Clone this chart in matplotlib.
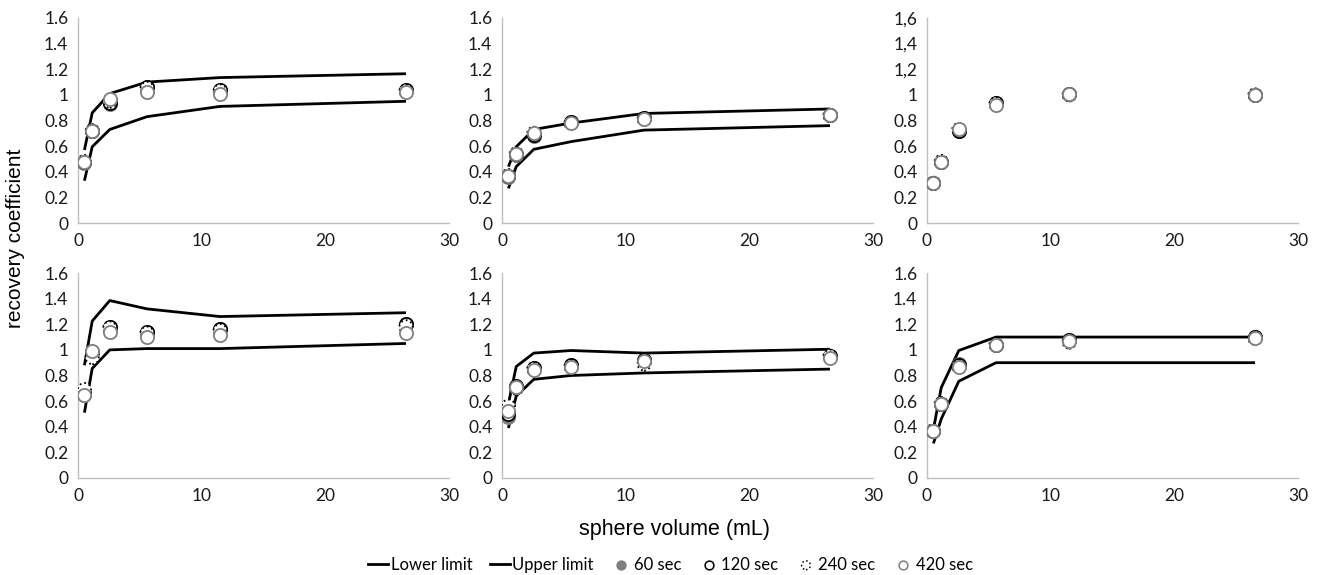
"""Recovery coefficient vs sphere volume, six panels with limit bands."""

import matplotlib

matplotlib.use("Agg")
import matplotlib.pyplot as plt
from matplotlib.lines import Line2D


# sphere volumes (mL) of the six phantom spheres
volume = [0.52, 1.15, 2.57, 5.58, 11.49, 26.52]

series_names = ["60 sec", "120 sec", "240 sec", "420 sec"]

# panel order: top-left, top-middle, top-right, bottom-left, bottom-middle, bottom-right
lower_limit = [
    [0.33, 0.595, 0.73, 0.83, 0.91, 0.95],
    [0.27, 0.44, 0.575, 0.635, 0.725, 0.76],
    None,
    [0.51, 0.855, 1.0, 1.01, 1.01, 1.05],
    [0.39, 0.64, 0.77, 0.80, 0.82, 0.85],
    [0.27, 0.46, 0.755, 0.90, 0.90, 0.90],
]
upper_limit = [
    [0.57, 0.86, 1.01, 1.10, 1.135, 1.165],
    [0.44, 0.595, 0.73, 0.78, 0.855, 0.89],
    None,
    [0.88, 1.225, 1.385, 1.32, 1.26, 1.29],
    [0.58, 0.87, 0.975, 0.995, 0.975, 1.005],
    [0.38, 0.705, 0.995, 1.10, 1.10, 1.10],
]

rc_60 = [
    [0.47, 0.72, 0.93, 1.06, 1.04, 1.04],
    [0.36, 0.53, 0.68, 0.79, 0.82, 0.84],
    [0.31, 0.48, 0.72, 0.94, 1.01, 1.00],
    [0.65, 0.98, 1.18, 1.14, 1.16, 1.20],
    [0.48, 0.71, 0.86, 0.88, 0.92, 0.95],
    [0.37, 0.58, 0.89, 1.04, 1.08, 1.10],
]
rc_120 = [
    [0.48, 0.72, 0.94, 1.06, 1.04, 1.04],
    [0.37, 0.54, 0.69, 0.79, 0.82, 0.84],
    [0.31, 0.48, 0.72, 0.94, 1.01, 1.00],
    [0.66, 0.98, 1.18, 1.14, 1.16, 1.20],
    [0.50, 0.72, 0.86, 0.88, 0.92, 0.95],
    [0.37, 0.58, 0.88, 1.04, 1.08, 1.10],
]
rc_240 = [
    [0.48, 0.72, 0.95, 1.05, 1.03, 1.03],
    [0.37, 0.54, 0.70, 0.78, 0.81, 0.84],
    [0.31, 0.48, 0.73, 0.93, 1.00, 1.00],
    [0.69, 0.94, 1.17, 1.13, 1.15, 1.18],
    [0.56, 0.70, 0.85, 0.87, 0.89, 0.95],
    [0.37, 0.58, 0.87, 1.04, 1.06, 1.09],
]
rc_420 = [
    [0.48, 0.72, 0.97, 1.02, 1.01, 1.02],
    [0.37, 0.54, 0.70, 0.78, 0.815, 0.84],
    [0.31, 0.48, 0.73, 0.92, 1.005, 1.00],
    [0.65, 0.99, 1.14, 1.10, 1.12, 1.13],
    [0.52, 0.71, 0.84, 0.87, 0.91, 0.94],
    [0.37, 0.58, 0.87, 1.04, 1.07, 1.09],
]

y_ticks = [0, 0.2, 0.4, 0.6, 0.8, 1.0, 1.2, 1.4, 1.6]
y_labels = ["0", "0.2", "0.4", "0.6", "0.8", "1", "1.2", "1.4", "1.6"]
y_labels_comma = ["0", "0.2", "0.4", "0.6", "0.8", "1", "1,2", "1,4", "1,6"]
x_ticks = [0, 10, 20, 30]

TICK_FONT = "Lato"
LABEL_FONT = "Liberation Sans"
GREY = "#7f7f7f"
SPINE = "#bfbfbf"

marker_styles = [
    dict(facecolors=GREY, edgecolors=GREY, linestyle="-"),
    dict(facecolors="white", edgecolors="black", linestyle="-"),
    dict(facecolors="white", edgecolors="black", linestyle=":"),
    dict(facecolors="white", edgecolors=GREY, linestyle="-"),
]

fig = plt.figure(figsize=(13.2, 5.75), dpi=100)

lefts = [78 / 1320, 502 / 1320, 927 / 1320]
bottoms = [(575 - 223) / 575, (575 - 478) / 575]
width = 371 / 1320
height = 205 / 575

all_series = [rc_60, rc_120, rc_240, rc_420]

for idx in range(6):
    row, col = divmod(idx, 3)
    ax = fig.add_axes([lefts[col], bottoms[row], width, height])

    if lower_limit[idx] is not None:
        ax.plot(volume, lower_limit[idx], color="black", lw=2.0, solid_capstyle="butt", zorder=2)
        ax.plot(volume, upper_limit[idx], color="black", lw=2.0, solid_capstyle="butt", zorder=2)

    for k, data in enumerate(all_series):
        ax.scatter(volume, data[idx], s=90, linewidths=1.3, zorder=3 + k, **marker_styles[k])

    ax.set_xlim(0, 30)
    ax.set_ylim(0, 1.6)
    ax.set_xticks(x_ticks)
    ax.set_yticks(y_ticks)
    ax.set_yticklabels(y_labels_comma if idx == 2 else y_labels)
    ax.tick_params(length=0, labelsize=12.5, pad=7, labelcolor="#1a1a1a")
    for lab in ax.get_xticklabels() + ax.get_yticklabels():
        lab.set_fontfamily(TICK_FONT)
    for side in ("top", "right"):
        ax.spines[side].set_visible(False)
    for side in ("left", "bottom"):
        ax.spines[side].set_color(SPINE)
        ax.spines[side].set_linewidth(1.0)
    ax.set_facecolor("none")

fig.text(0.0115, 0.585, "recovery coefficient", rotation=90, ha="center", va="center",
         fontsize=15, family=LABEL_FONT)
fig.text(0.511, 0.08, "sphere volume (mL)", ha="center", va="center",
         fontsize=15.5, family=LABEL_FONT)

handles = [
    Line2D([], [], color="black", lw=2.0),
    Line2D([], [], color="black", lw=2.0),
]
for k in range(4):
    st = marker_styles[k]
    handles.append(
        plt.scatter([], [], s=40, linewidths=1.1, facecolors=st["facecolors"],
                    edgecolors=st["edgecolors"], linestyle=st["linestyle"])
    )
labels = ["Lower limit", "Upper limit"] + series_names
fig.legend(handles, labels, loc="center", bbox_to_anchor=(0.508, 0.018), ncol=6,
           frameon=False, handlelength=1.2, handletextpad=0.15, columnspacing=1.05,
           prop={"family": TICK_FONT, "size": 12})

fig.savefig("out.png", dpi=100)
plt.close(fig)
